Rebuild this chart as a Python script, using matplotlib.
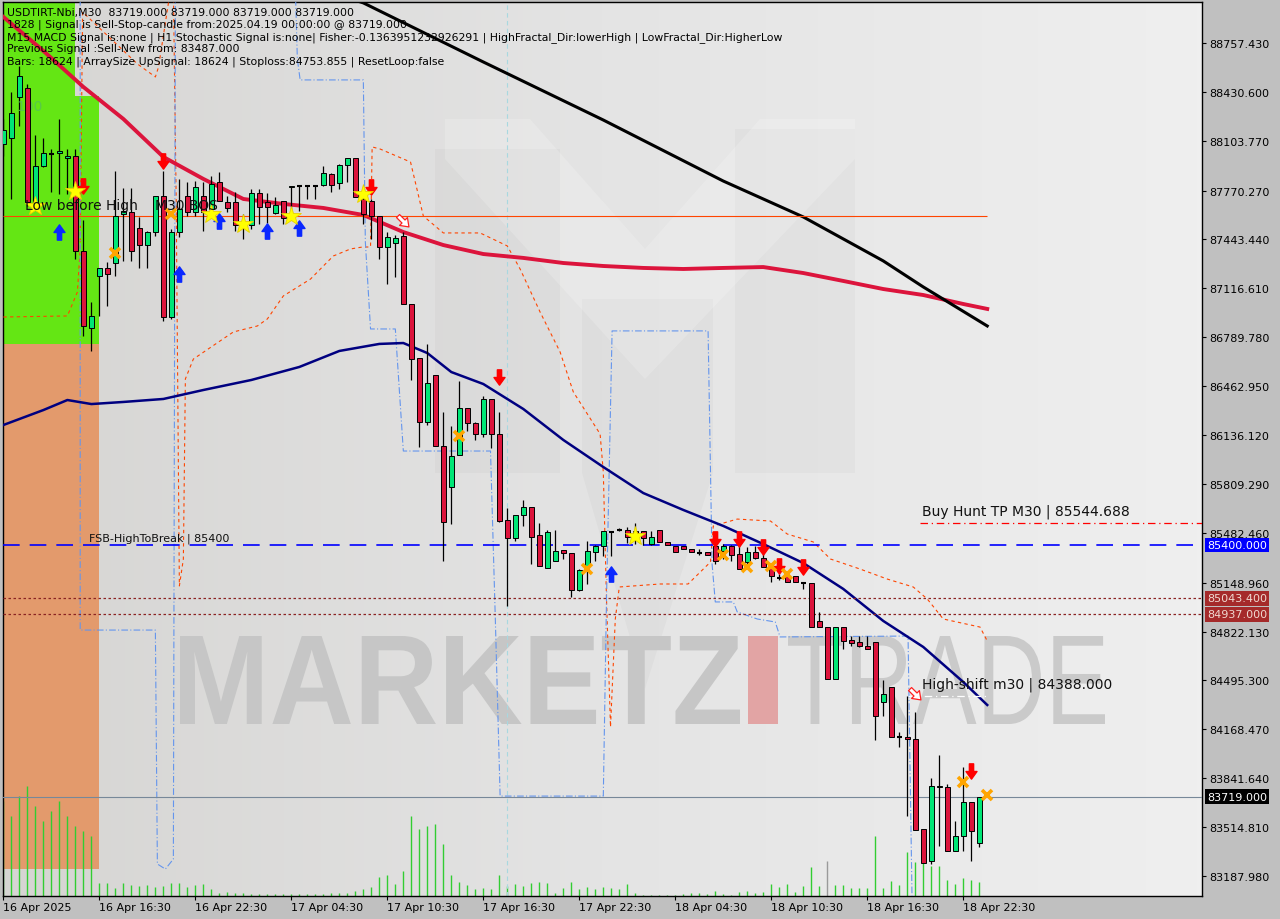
import numpy as np
import matplotlib.pyplot as plt
from matplotlib.colors import LinearSegmentedColormap
from matplotlib.font_manager import FontProperties
from matplotlib.patches import PathPatch, Polygon
from matplotlib.path import Path
from matplotlib.textpath import TextPath
from matplotlib.transforms import Affine2D, blended_transform_factory

# ---- data (M30 bars, 16 Apr 10:30 .. 18 Apr 23:30) ----
opens = [88082, 88122, 88396, 88456, 87694, 87935, 88022, 88022, 87988, 88002,
         87366, 86852, 87199, 87253, 87286, 87614, 87627, 87520, 87406, 87493,
         87734, 86925, 87493, 87734, 87627, 87734, 87647, 87828, 87694, 87694,
         87540, 87540, 87754, 87694, 87620, 87701, 87794, 87801, 87801, 87801,
         87808, 87881, 87821, 87941, 87988, 87714, 87701, 87600, 87393, 87420,
         87467, 87012, 86651, 86223, 86537, 86063, 85788, 86003, 86317, 86216,
         86143, 86377, 86143, 85568, 85447, 85601, 85655, 85468, 85247, 85294,
         85367, 85347, 85100, 85260, 85354, 85394, 85494, 85501, 85501, 85494,
         85494, 85407, 85501, 85421, 85394, 85394, 85374, 85354, 85354, 85394,
         85361, 85394, 85341, 85287, 85354, 85314, 85254, 85180, 85193, 85193,
         85147, 85147, 84893, 84852, 84505, 84852, 84766, 84752, 84725, 84752,
         84351, 84451, 84117, 84117, 84104, 83502, 83288, 83783, 83783, 83355,
         83455, 83682, 83408]
highs = [88249, 88429, 88603, 88483, 88142, 88122, 88048, 88249, 88048, 88048,
         87574, 87025, 87253, 87293, 87901, 87788, 87788, 87594, 87500, 87734,
         87901, 87513, 87848, 87828, 87834, 87828, 87868, 87895, 87734, 87761,
         87614, 87781, 87781, 87754, 87727, 87701, 87801, 87801, 87801, 87808,
         87935, 87888, 87948, 87988, 87988, 87781, 87714, 87600, 87493, 87473,
         87493, 87012, 86651, 86745, 86537, 86290, 86196, 86497, 86317, 86223,
         86397, 86377, 86290, 85648, 85601, 85702, 85655, 85548, 85501, 85501,
         85367, 85347, 85240, 85427, 85401, 85494, 85494, 85514, 85521, 85548,
         85494, 85494, 85501, 85421, 85394, 85394, 85374, 85374, 85354, 85468,
         85407, 85401, 85407, 85387, 85394, 85387, 85254, 85207, 85193, 85193,
         85153, 85147, 84953, 84852, 84852, 84852, 84792, 84792, 84792, 84752,
         84498, 84451, 84150, 84391, 84284, 83502, 83843, 83997, 83803, 83555,
         83916, 83682, 83719]
lows = [88002, 87714, 88202, 87667, 87660, 87928, 87761, 87747, 87747, 87313,
        86798, 86698, 86932, 86999, 87199, 87300, 87300, 87253, 87253, 87467,
        86898, 86910, 87460, 87600, 87600, 87500, 87594, 87701, 87627, 87500,
        87447, 87513, 87547, 87554, 87614, 87547, 87614, 87634, 87714, 87714,
        87801, 87761, 87781, 87828, 87727, 87547, 87447, 87313, 87146, 87193,
        87012, 86504, 86056, 86203, 86063, 85294, 85541, 86003, 86163, 86103,
        86123, 86049, 85554, 84993, 85427, 85528, 85274, 85260, 85247, 85294,
        85307, 85053, 85093, 85140, 85294, 85327, 85327, 85494, 85414, 85407,
        85401, 85401, 85421, 85401, 85354, 85374, 85354, 85334, 85334, 85274,
        85307, 85294, 85240, 85240, 85307, 85254, 85153, 85167, 85153, 85153,
        85107, 84852, 84852, 84505, 84505, 84705, 84725, 84719, 84705, 84097,
        84257, 84117, 84050, 83589, 83495, 83275, 83268, 83388, 83355, 83355,
        83355, 83288, 83382]
closes = [88175, 88289, 88536, 87694, 87935, 88022, 88018, 88035, 88002, 87366,
          86865, 86932, 87253, 87213, 87600, 87634, 87366, 87406, 87493, 87734,
          86925, 87493, 87647, 87627, 87794, 87627, 87814, 87701, 87654, 87540,
          87520, 87754, 87660, 87660, 87674, 87587, 87801, 87798, 87798, 87801,
          87888, 87808, 87941, 87988, 87727, 87614, 87600, 87393, 87460, 87453,
          87012, 86644, 86223, 86484, 86063, 85554, 85996, 86317, 86216, 86143,
          86377, 86143, 85561, 85447, 85601, 85655, 85454, 85260, 85488, 85361,
          85347, 85100, 85234, 85361, 85394, 85494, 85490, 85501, 85454, 85468,
          85447, 85454, 85421, 85401, 85354, 85374, 85354, 85350, 85334, 85294,
          85394, 85334, 85240, 85354, 85314, 85254, 85193, 85180, 85153, 85153,
          85147, 84852, 84852, 84505, 84852, 84759, 84745, 84725, 84705, 84257,
          84404, 84117, 84117, 84104, 83495, 83275, 83789, 83789, 83355, 83455,
          83682, 83488, 83719]
volume = [95, 80, 100, 110, 90, 75, 85, 95, 80, 70, 65, 60,
          13, 13, 8, 13, 11, 10, 11, 9, 10, 13, 13, 9, 11, 12, 7,
          3, 4, 3, 3, 2, 2, 2, 2, 2, 2, 2, 2, 2, 2, 3, 3, 3, 5, 7,
          9, 19, 21, 12, 25, 80, 67, 70, 72, 52, 21, 14, 11, 7, 8, 7, 21,
          10, 12, 10, 13, 14, 13, 3, 8, 14, 7, 9, 7, 9, 8, 7, 12, 3,
          1, 1, 1, 1, 1, 2, 3, 3, 2, 5, 2, 1, 4, 5, 3, 4, 12, 9, 12, 4, 10,
          29, 10, 35, 11, 11, 8, 8, 8, 60, 8, 15, 11, 44, 34, 42, 30, 30, 16, 12, 18, 16, 14]
volume_full = 894  # volume that would fill the whole panel height

time_label_bars = [0, 12, 24, 36, 48, 60, 72, 84, 96, 108, 120]
time_labels = ["16 Apr 2025", "16 Apr 16:30", "16 Apr 22:30", "17 Apr 04:30", "17 Apr 10:30",
               "17 Apr 16:30", "17 Apr 22:30", "18 Apr 04:30", "18 Apr 10:30", "18 Apr 16:30",
               "18 Apr 22:30"]
price_ticks = [88757.430, 88430.600, 88103.770, 87770.270, 87443.440, 87116.610, 86789.780,
               86462.950, 86136.120, 85809.290, 85482.460, 85148.960, 84822.130, 84495.300,
               84168.470, 83841.640, 83514.810, 83187.980]

# moving averages / indicator lines
red_ma_bars = [0, 5, 10, 15, 20, 25, 30, 35, 40, 45, 50, 55, 60, 65, 70, 75, 80, 85, 90,
               95, 100, 105, 110, 115, 120, 123]
red_ma = [88931, 88704, 88463, 88249, 87995, 87848, 87714, 87681, 87654, 87607, 87493,
          87406, 87346, 87320, 87286, 87266, 87253, 87246, 87253, 87259, 87219, 87166,
          87112, 87072, 87012, 86979]
black_ma_bars = [42, 45, 60, 75, 90, 100, 110, 115, 123]
black_ma = [89078, 89025, 88630, 88242, 87834, 87594, 87300, 87126, 86865]
navy_ma_bars = [0, 5, 8, 11, 15, 20, 25, 31, 37, 42, 47, 50, 53, 56, 60, 65, 70, 75, 80,
                85, 90, 95, 100, 105, 110, 115, 120, 123]
navy_ma = [86203, 86303, 86370, 86343, 86357, 86377, 86437, 86504, 86591, 86698, 86745,
           86751, 86684, 86557, 86477, 86310, 86103, 85922, 85748, 85635, 85528, 85407,
           85280, 85107, 84893, 84719, 84485, 84331]
env_bars = [0, 8, 9.25, 9.6, 9.9, 16.75, 19, 19.4, 20.9, 21.25, 21.6, 22, 22.5, 22.75,
            23.75, 28.75, 31.75, 33, 35, 38.4, 40, 41.25, 43.4, 44.9, 45.9, 46.1, 47.1,
            50.9, 52.5, 55, 59.6, 63, 64.6, 67.1, 69.6, 71.25, 74.6, 75, 75.4, 75.9, 76.5,
            77, 82.1, 85.6, 88.4, 88.75, 91.75, 95.9, 98, 101.25, 103.4, 107.1, 110.5,
            113.75, 115.5, 117.5, 122.1, 123]
env_vals = [86925, 86932, 87092, 87380, 88964, 88617, 88530, 88597, 89118, 89118, 87714,
            85127, 85307, 86511, 86644, 86825, 86865, 86912, 87066, 87179, 87266, 87333,
            87380, 87393, 87393, 88062, 88048, 87961, 87600, 87487, 87487, 87400, 87246,
            86958, 86691, 86424, 86143, 85889, 85040, 84184, 84906, 85120, 85140, 85140,
            85287, 85528, 85574, 85561, 85474, 85421, 85307, 85240, 85173, 85120, 85040,
            84906, 84852, 84759]
step_bars = [9.6, 9.6, 19, 19.25, 20.25, 21.25, 21.5, 36.5, 36.75, 37.1, 45, 45.25, 45.9,
             49, 50, 60.9, 61.5, 62.1, 75, 75.4, 76.1, 88.1, 88.6, 89, 91.25, 91.75, 94.25,
             96.5, 97.1, 113.1, 113.6]
step_vals = [89118, 84832, 84832, 83268, 83234, 83301, 89118, 89118, 88650, 88510, 88510,
             87427, 86845, 86845, 86029, 86029, 84906, 83722, 83722, 85040, 86832, 86832,
             85274, 85020, 85020, 84953, 84906, 84886, 84786, 84792, 83034]

# signal markers
sell_bars = [10, 20, 46, 62, 89, 92, 95, 97, 100, 121]
sell_prices = [87801, 87968, 87794, 86524, 85440, 85440, 85387, 85260, 85254, 83890]
buy_bars = [7, 22, 27, 33, 37, 76]
buy_prices = [87493, 87213, 87567, 87500, 87520, 85207]
star_bars = [4, 9, 26, 30, 36, 45, 79]
star_prices = [87667, 87767, 87614, 87547, 87600, 87747, 85461]
cross_bars = [14, 21, 57, 73, 90, 93, 96, 98, 120, 123]
cross_prices = [87353, 87614, 86129, 85240, 85334, 85254, 85260, 85207, 83816, 83729]
shift_bars = [50, 114]
shift_prices = [87567, 84404]

# levels
bos_level = 87600
fsb_level = 85400
buy_hunt_tp = 85544.688
high_shift = 84388.000
dotted_levels = [85043.4, 84937.0]
bid = 83719.0

info_lines = [
    "USDTIRT-Nbi,M30  83719.000 83719.000 83719.000 83719.000",
    "1828 | Signal is Sell-Stop-candle from:2025.04.19 00:00:00 @ 83719.000",
    "M15 MACD Signal is:none | H1 Stochastic Signal is:none| Fisher:-0.1363951232926291 | HighFractal_Dir:lowerHigh | LowFractal_Dir:HigherLow",
    "Previous Signal :Sell-New from: 83487.000",
    "Bars: 18624 | ArraySize UpSignal: 18624 | Stoploss:84753.855 | ResetLoop:false",
]

# ---- figure ----
W, H = 1280, 920
fig = plt.figure(figsize=(W / 100, H / 100), dpi=100, facecolor='#c0c0c0')
ax = fig.add_axes([3 / W, 23 / H, 1199 / W, 894 / H])
x_lo, x_hi = -0.05, 149.85
y_lo, y_hi = 83054, 89031


def px_axes(x, y):
    # pixel position (top-left origin) -> axes fraction
    return (x - 3) / 1199, (897 - y) / 894


bg = LinearSegmentedColormap.from_list('bg', ['#d6d5d3', '#e4e4e4', '#efefef'])
ax.imshow(np.linspace(0, 1, 256).reshape(1, -1), extent=[x_lo, x_hi, y_lo, y_hi],
          aspect='auto', cmap=bg, zorder=0)

# faint "M" logo in the background
logo_dark = [
    [(435, 150), (560, 150), (560, 474), (435, 474)],
    [(735, 130), (855, 130), (855, 474), (735, 474)],
    [(582, 300), (713, 300), (713, 474), (582, 474)],
    [(582, 474), (713, 474), (645, 690)],
]
for poly in logo_dark:
    ax.add_patch(Polygon([px_axes(*p) for p in poly], closed=True, transform=ax.transAxes,
                         fc='black', ec='none', alpha=0.025, zorder=0.5))
logo_light = [(445, 120), (530, 120), (645, 250), (760, 120), (855, 120), (855, 160),
              (645, 380), (445, 160)]
ax.add_patch(Polygon([px_axes(*p) for p in logo_light], closed=True, transform=ax.transAxes,
                     fc='white', ec='none', alpha=0.18, zorder=0.5))

# zones at the left
zone_top = 89200
zone_mid = 86744
zone_bottom = 83234
ax.add_patch(Polygon([(x_lo, zone_top), (9.0, zone_top), (9.0, 88403), (11.9, 88403),
                      (11.9, zone_mid), (x_lo, zone_mid)], closed=True,
                     fc='#64e614', ec='none', zorder=1))
ax.add_patch(Polygon([(x_lo, zone_mid), (11.9, zone_mid), (11.9, zone_bottom),
                      (x_lo, zone_bottom)], closed=True, fc='#e39a6c', ec='none', zorder=1))


# watermark text
def fit_text(s, weight, box, color):
    x0, y0, x1, y1 = box
    tp = TextPath((0, 0), s, size=100, prop=FontProperties(family='Liberation Sans', weight=weight))
    ext = tp.get_extents()
    ax0, ay1 = px_axes(x0, y0)
    ax1, ay0 = px_axes(x1, y1)
    tr = (Affine2D().translate(-ext.x0, -ext.y0)
          .scale((ax1 - ax0) / ext.width, (ay1 - ay0) / ext.height)
          .translate(ax0, ay0) + ax.transAxes)
    ax.add_patch(PathPatch(tp, transform=tr, fc=color, ec='none', zorder=1.5))


fit_text("MARKETZ", 'bold', (180, 637, 740, 725), '#c6c6c6')
fit_text("TRADE", 'normal', (788, 637, 1105, 725), '#cacaca')
ax.add_patch(Polygon([px_axes(748, 637), px_axes(778, 637), px_axes(778, 725), px_axes(748, 725)],
                     closed=True, transform=ax.transAxes, fc='#e2a4a4', ec='none', zorder=1.5))

bars = np.arange(len(opens))
o = np.array(opens, float)
hi = np.array(highs, float)
lo = np.array(lows, float)
c = np.array(closes, float)
vol = np.array(volume, float)

# volumes
vol_colors = ['#9a9a9a' if i == 103 else '#32cd32' for i in bars]
ax.vlines(bars, 0, vol / volume_full, colors=vol_colors, lw=1.0,
          transform=ax.get_xaxis_transform(), zorder=2)

# indicator lines
ax.axvline(63, color='#a8d8e0', lw=0.8, ls=(0, (4, 3)), zorder=2)
ax.plot(env_bars, env_vals, color='#ff4500', lw=0.8, ls=(0, (3, 3)), zorder=3)
ax.plot(step_bars, step_vals, color='#6495ed', lw=0.8, ls=(0, (6, 2, 1, 2)), zorder=3)
ax.plot(red_ma_bars, red_ma, color='#dc143c', lw=2.8, zorder=3)
ax.plot(black_ma_bars, black_ma, color='black', lw=2.2, zorder=3)
ax.plot(navy_ma_bars, navy_ma, color='#000080', lw=1.8, zorder=3)

# horizontal levels
ax.hlines(bos_level, x_lo, 123, color='#ff4500', lw=0.8, zorder=3)
ax.axhline(fsb_level, color='#0000ff', lw=1.2, ls=(0, (10, 6)), zorder=3)
for lvl in dotted_levels:
    ax.axhline(lvl, color='#8b2323', lw=0.9, ls=(0, (2, 2)), zorder=3)
ax.hlines(buy_hunt_tp, 114.6, x_hi, color='#ff0000', lw=0.9, ls=(0, (6, 3, 1, 3)), zorder=3)
ax.hlines(high_shift, 113.1, 123, color='white', lw=0.9, ls=(0, (6, 3, 1, 3)), zorder=3)
ax.axhline(bid, color='#778899', lw=0.8, zorder=3)

# candles
up = (c - o) > 4
down = (o - c) > 4
flat = ~(up | down)
ax.vlines(bars, lo, hi, color='black', lw=0.9, zorder=4)
ax.bar(bars[up], (c - o)[up], bottom=o[up], width=0.6, color='#00e676',
       edgecolor='black', linewidth=0.7, zorder=5)
ax.bar(bars[down], (c - o)[down], bottom=o[down], width=0.6, color='#dc143c',
       edgecolor='black', linewidth=0.7, zorder=5)
ax.hlines(c[flat], bars[flat] - 0.3, bars[flat] + 0.3, color='black', lw=1.5, zorder=5)

# signal markers
arrow = Path([(-0.25, 0.9), (0.25, 0.9), (0.25, 0.0), (0.65, 0.0), (0.0, -0.9),
              (-0.65, 0.0), (-0.25, 0.0), (-0.25, 0.9)],
             [Path.MOVETO] + [Path.LINETO] * 6 + [Path.CLOSEPOLY])
up_arrow = arrow.transformed(Affine2D().scale(1, -1))
diag_arrow = arrow.transformed(Affine2D().rotate_deg(45))
ax.plot(sell_bars, sell_prices, ls='none', marker=arrow, ms=11, mfc='#ff0000', mec='#ff0000', zorder=7)
ax.plot(buy_bars, buy_prices, ls='none', marker=up_arrow, ms=11, mfc='#0a28ff', mec='#0a28ff', zorder=7)
ax.plot(star_bars, star_prices, ls='none', marker='*', ms=15, mfc='#ffff00', mec='#e8d000',
        mew=0.6, zorder=7)
ax.plot(cross_bars, cross_prices, ls='none', marker='x', ms=7, mew=2.6, color='#ffa500', zorder=7)
ax.plot(shift_bars, shift_prices, ls='none', marker=diag_arrow, ms=10, mfc='white',
        mec='#ff2020', mew=0.9, zorder=7)

# chart labels
ax.text(2.75, 87674, "Low before High", fontsize=10, va='center', ha='left', color='#111111', zorder=8)
ax.text(19, 87674, "M30 BOS", fontsize=10, va='center', ha='left', color='#111111', zorder=8)
ax.text(10.75, fsb_level + 50, "FSB-HighToBreak | 85400", fontsize=8, va='center', ha='left',
        color='#111111', zorder=8)
ax.text(114.9, 85628, "Buy Hunt TP M30 | 85544.688", fontsize=10, va='center', ha='left',
        color='#111111', zorder=8)
ax.text(114.9, 84471, "High-shift m30 | 84388.000", fontsize=10, va='center', ha='left',
        color='#111111', zorder=8)
ax.text(1.6, 88336, "100", fontsize=10, va='center', ha='left', color='#55c255', alpha=0.8, zorder=4.5)

for k, line in enumerate(info_lines):
    fig.text(7 / W, 1 - (12.7 + 12.25 * k) / H, line, fontsize=7.8, va='center', ha='left',
             color='black', zorder=10)

# axes styling
ax.set_xlim(x_lo, x_hi)
ax.set_ylim(y_lo, y_hi)
ax.yaxis.tick_right()
ax.set_yticks(price_ticks)
ax.set_yticklabels([f"{v:.3f}" for v in price_ticks])
ax.set_xticks(time_label_bars)
ax.set_xticklabels(time_labels)
for lbl in ax.get_xticklabels():
    lbl.set_horizontalalignment('left')
ax.tick_params(axis='y', direction='out', length=3, pad=2.5, labelsize=8, colors='black')
ax.tick_params(axis='x', direction='out', length=3, pad=1.5, labelsize=8, colors='black')
for sp in ax.spines.values():
    sp.set_color('black')
    sp.set_linewidth(1)

# highlighted price boxes on the right scale
rt = blended_transform_factory(ax.transAxes, ax.transData)
boxes = [(fsb_level, '#0000ff', 'white'), (dotted_levels[0], '#a52a2a', '#f0d8d0'),
         (dotted_levels[1], '#a52a2a', '#f0d8d0'), (bid, 'black', 'white')]
for val, fc, tc in boxes:
    ax.text(1.0042, val, f"{val:.3f}", transform=rt, fontsize=8, va='center', ha='left',
            color=tc, clip_on=False, zorder=10,
            bbox=dict(boxstyle='square,pad=0.2', fc=fc, ec='none'))

fig.savefig('out.png', dpi=100, facecolor=fig.get_facecolor())
